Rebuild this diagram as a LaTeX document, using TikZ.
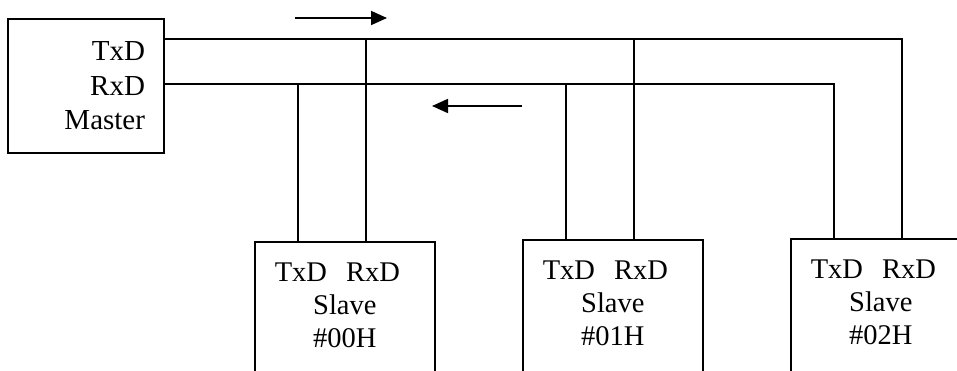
\documentclass[tikz,border=0pt]{standalone}
\usepackage{fontspec}
\setmainfont{Liberation Serif}
\usetikzlibrary{arrows.meta}

\begin{document}
\begin{tikzpicture}
[x=1pt,y=-1pt,line width=1.7pt]
\tikzset{
	master/.style = {draw, minimum width=156pt, minimum height=134pt, inner xsep=19pt, text width=118pt, align=right, font=\fontsize{29}{34.5}\selectfont},
	slave/.style = {draw, anchor=north west, minimum width=180pt, inner xsep=0pt, inner ysep=21pt, text width=180pt, align=center, text depth=100pt, font=\fontsize{28.5}{33}\selectfont},
	flow/.style = {-{Triangle[length=16pt,width=14pt]}}
}
\useasboundingbox (0,0) rectangle (957,371);
\clip (0,0) rectangle (957,371);

\node (master) [master] at (86,86) {TxD\\RxD\\Master};
\node (s00) [slave] at (254,241) {TxD~~RxD\hspace*{15pt}\mbox{}\\Slave\\\#00H};
\node (s01) [slave] at (522,239) {TxD~~RxD\hspace*{15pt}\mbox{}\\Slave\\\#01H};
\node (s02) [slave] at (790,238) {TxD~~RxD\hspace*{15pt}\mbox{}\\Slave\\\#02H};

% the two bus lines
\draw ([yshift=-21pt]master.north east) coordinate (tx) -| ([xshift=112pt]s02.north west);
\draw ([yshift=-66pt]master.north east) coordinate (rx) -| ([xshift=44pt]s02.north west);

% drops to the other slaves
\foreach \s in {s00,s01}{
	\path ([xshift=44pt]\s.north west) coordinate (a) ([xshift=112pt]\s.north west) coordinate (b);
	\draw (a) -- (a |- rx);
	\draw (b) -- (b |- tx);
}

% direction of data
\coordinate (fwd0) at (295,18);
\coordinate (fwd1) at (387,18);
\coordinate (back0) at (522,106);
\coordinate (back1) at (432,106);
\draw[flow] (fwd0) -- (fwd1);
\draw[flow] (back0) -- (back1);

\end{tikzpicture}
\end{document}
